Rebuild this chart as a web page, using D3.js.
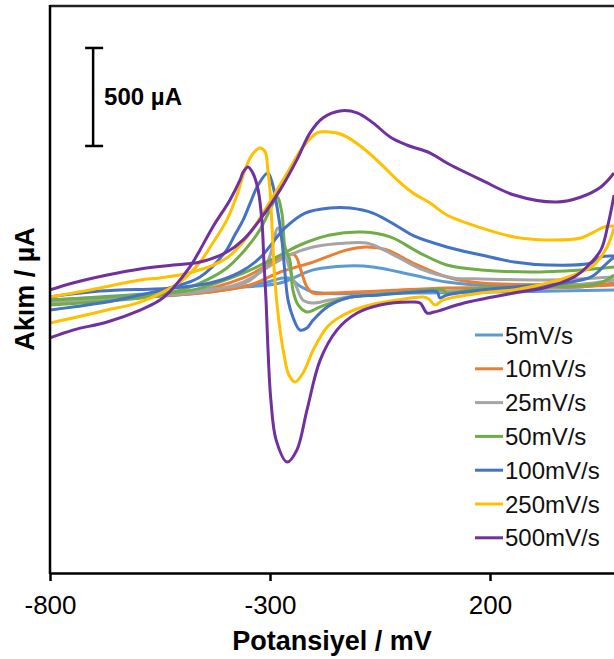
<!DOCTYPE html>
<html><head><meta charset="utf-8">
<script src="https://cdn.jsdelivr.net/npm/d3@7"></script>
<style>
html,body{margin:0;padding:0;background:#fff;}
svg{display:block;font-family:"Liberation Sans",Arial,sans-serif;}
</style></head>
<body><svg id="chart" width="614" height="659"></svg>
<script>
// Scan-rate labels and colours
const scanRates = ["5mV/s","10mV/s","25mV/s","50mV/s","100mV/s","250mV/s","500mV/s"];
const seriesColors = ["#5B9BD5","#ED7D31","#A5A5A5","#70AD47","#4472C4","#FFC000","#7030A0"];
const xTicks = [-800,-300,200];

// Each voltammogram: sweep A (sharp peak/trough branch) and sweep B (broad branch); [potential mV, current µA]
const sweepA_5 = [[-800,-36],[-459,10],[-316,61],[-259,87],[-232,46],[-202,15],[-4,10],[482,26]];
const sweepB_5 = [[-800,-26],[-391,36],[-277,61],[-202,128],[-125,148],[-66,143],[25,102],[102,66],[255,41],[407,41],[482,61]];

const sweepA_10 = [[-800,-41],[-475,15],[-361,87],[-284,179],[-248,209],[-239,189],[-232,143],[-216,41],[-202,10],[-164,10],[-50,20],[102,36],[330,36],[482,51]];
const sweepB_10 = [[-800,-26],[-459,10],[-345,51],[-277,117],[-202,168],[-125,230],[-80,245],[-34,230],[25,163],[102,92],[180,61],[482,56]];

const sweepA_25 = [[-800,-36],[-595,-10],[-459,26],[-361,56],[-307,163],[-282,342],[-270,255],[-255,128],[-239,36],[-225,-26],[-202,-41],[-164,-26],[-89,0],[25,15],[177,26],[330,36],[482,77]];
const sweepB_25 = [[-800,-26],[-459,15],[-361,66],[-300,148],[-255,204],[-202,245],[-125,265],[-80,265],[-27,214],[48,128],[116,87],[180,82],[330,77],[482,92]];

const sweepA_50 = [[-800,-51],[-595,-15],[-520,15],[-459,61],[-398,138],[-357,230],[-323,332],[-300,434],[-284,500],[-273,418],[-266,245],[-255,179],[-248,26],[-236,-51],[-216,-87],[-186,-61],[-125,-15],[-11,10],[93,26],[102,10],[177,36],[330,41],[450,61],[482,102]];
const sweepB_50 = [[-800,-26],[-595,0],[-475,26],[-361,112],[-284,194],[-232,255],[-164,306],[-89,321],[-27,296],[41,214],[102,153],[180,128],[293,117],[407,128],[482,143]];

const sweepA_100 = [[-800,-77],[-748,-61],[-670,-36],[-595,0],[-520,41],[-459,92],[-402,219],[-380,306],[-361,383],[-345,469],[-327,561],[-305,622],[-295,571],[-284,449],[-273,281],[-266,112],[-259,-26],[-248,-112],[-232,-179],[-216,-168],[-202,-128],[-170,-61],[-125,-15],[-50,0],[34,15],[80,15],[86,-15],[102,0],[180,26],[255,41],[368,61],[430,92],[466,163],[482,194]];
const sweepB_100 = [[-800,-10],[-686,20],[-520,36],[-436,61],[-368,117],[-323,189],[-266,342],[-220,418],[-164,444],[-118,444],[-66,418],[-4,342],[27,301],[102,245],[180,204],[255,168],[330,153],[430,163],[452,194],[482,199]];

const sweepA_250 = [[-800,-143],[-748,-117],[-670,-77],[-595,-36],[-534,26],[-498,77],[-459,168],[-430,265],[-398,383],[-375,510],[-357,638],[-341,714],[-323,750],[-311,730],[-305,638],[-300,536],[-295,332],[-289,77],[-280,-128],[-268,-306],[-257,-408],[-243,-444],[-225,-398],[-202,-281],[-170,-163],[-141,-112],[-89,-61],[-11,-26],[48,-10],[61,-20],[75,-51],[93,-26],[180,10],[255,26],[330,61],[391,102],[436,153],[466,245],[482,342]];
const sweepB_250 = [[-800,-10],[-686,36],[-595,77],[-550,87],[-475,117],[-398,189],[-352,296],[-316,418],[-261,622],[-225,755],[-193,827],[-170,832],[-134,816],[-89,750],[-50,673],[-11,587],[25,520],[64,469],[102,408],[180,342],[255,296],[330,281],[407,291],[436,321],[459,347],[482,352]];

const sweepA_500 = [[-800,-219],[-748,-179],[-670,-138],[-595,-77],[-550,-26],[-520,36],[-482,143],[-459,230],[-430,347],[-391,485],[-368,587],[-361,627],[-350,653],[-339,622],[-327,536],[-318,367],[-314,179],[-309,-26],[-305,-255],[-298,-536],[-286,-740],[-261,-852],[-239,-791],[-216,-587],[-186,-332],[-148,-179],[-102,-92],[-50,-51],[18,-36],[41,-41],[57,-92],[73,-87],[141,-41],[255,10],[330,41],[391,92],[420,143],[452,230],[468,357],[482,510]];
const sweepB_500 = [[-800,26],[-748,61],[-670,102],[-595,133],[-520,153],[-459,168],[-398,219],[-361,281],[-323,383],[-277,536],[-239,689],[-209,827],[-180,903],[-141,939],[-102,929],[-66,878],[-27,806],[11,765],[64,724],[102,673],[180,587],[255,510],[352,474],[407,500],[452,551],[482,622]];

const sweepsA = [sweepA_5,sweepA_10,sweepA_25,sweepA_50,sweepA_100,sweepA_250,sweepA_500];
const sweepsB = [sweepB_5,sweepB_10,sweepB_25,sweepB_50,sweepB_100,sweepB_250,sweepB_500];

// Scale bar (µA)
const scaleBarFrom = 760, scaleBarTo = 1260, scaleBarPotential = -702;

const svg = d3.select("#chart");
const x = d3.scaleLinear().domain([-800, 700]).range([50, 710]);
const y = d3.scaleLinear().domain([-1418, 1474]).range([573, 6]);

svg.append("defs").append("clipPath").attr("id","plotClip")
  .append("rect").attr("x",50).attr("y",6).attr("width",564).attr("height",567);

const line = d3.line().x(d=>x(d[0])).y(d=>y(d[1])).curve(d3.curveCatmullRom.alpha(0.5));

const g = svg.append("g").attr("clip-path","url(#plotClip)");
scanRates.forEach((r,i)=>{
  [sweepsA[i], sweepsB[i]].forEach(s=>{
    g.append("path").attr("d", line(s)).attr("fill","none")
      .attr("stroke", seriesColors[i]).attr("stroke-width",3).attr("stroke-linejoin","round");
  });
});

// frame
svg.append("line").attr("x1",50).attr("x2",614).attr("y1",6).attr("y2",6).attr("stroke","#222").attr("stroke-width",2.5);
svg.append("line").attr("x1",50).attr("x2",50).attr("y1",5).attr("y2",574).attr("stroke","#000").attr("stroke-width",2.5);

// x axis
const xAxis = d3.axisBottom(x).tickValues(xTicks).tickSize(8).tickSizeOuter(0).tickPadding(15).tickFormat(d=>String(d));
const ax = svg.append("g").attr("transform","translate(0,573)").call(xAxis);
ax.select(".domain").attr("stroke","#000").attr("stroke-width",2.5);
ax.selectAll(".tick line").attr("stroke","#000").attr("stroke-width",2.5);
ax.selectAll(".tick text").attr("font-size",26).attr("fill","#000").attr("font-family","Liberation Sans, Arial, sans-serif");

// titles
svg.append("text").attr("x",332).attr("y",641).attr("text-anchor","middle").attr("dominant-baseline","central")
  .attr("font-size",27).attr("font-weight","bold").text("Potansiyel / mV");
svg.append("text").attr("transform","translate(25,289) rotate(-90)").attr("text-anchor","middle").attr("dominant-baseline","central")
  .attr("font-size",27).attr("font-weight","bold").text("Akım / µA");

// scale bar
const bx = x(scaleBarPotential);
svg.append("line").attr("x1",bx).attr("x2",bx).attr("y1",y(scaleBarTo)).attr("y2",y(scaleBarFrom)).attr("stroke","#000").attr("stroke-width",2.5);
[scaleBarTo, scaleBarFrom].forEach(v=>{
  svg.append("line").attr("x1",bx-8).attr("x2",bx+10).attr("y1",y(v)).attr("y2",y(v)).attr("stroke","#000").attr("stroke-width",2.5);
});
svg.append("text").attr("x",bx+11).attr("y",y((scaleBarFrom+scaleBarTo)/2)).attr("dominant-baseline","central")
  .attr("font-size",24).attr("font-weight","bold").text("500 µA");

// legend
const leg = svg.append("g");
scanRates.forEach((r,i)=>{
  const ly = 335 + i*33.8;
  leg.append("line").attr("x1",475).attr("x2",503).attr("y1",ly).attr("y2",ly).attr("stroke",seriesColors[i]).attr("stroke-width",3);
  leg.append("text").attr("x",505).attr("y",ly).attr("dominant-baseline","central").attr("font-size",24).attr("fill","#111").text(r);
});
</script></body></html>
